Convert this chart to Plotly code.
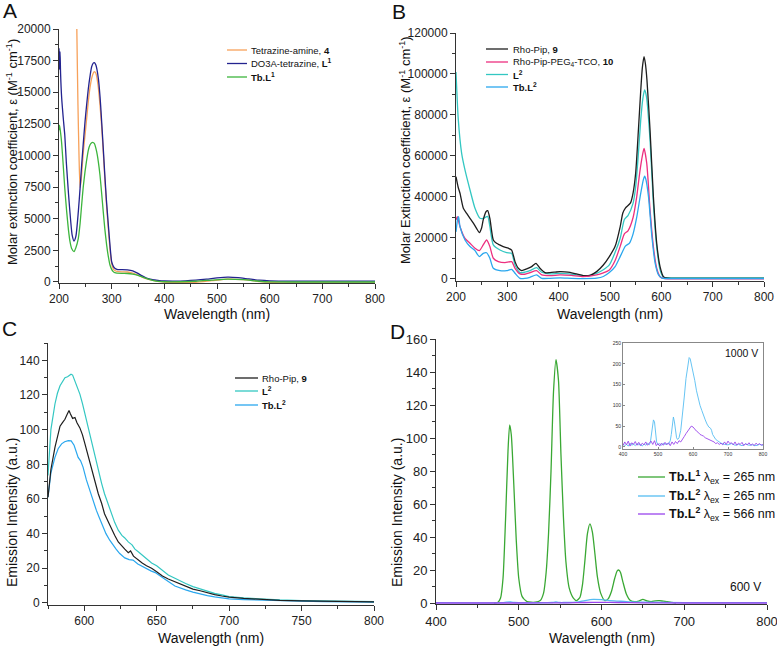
import plotly.graph_objects as go

W, H = 777, 649
def PX(x): return x / W
def PY(y): return 1 - y / H

# ---------------- Panel A data ----------------
a_wl_amine = [232, 234, 236, 238, 240, 242, 244, 246.5, 249.4, 253, 256, 259, 262, 265, 267, 270, 274, 278, 281, 284, 287, 290, 293.7, 297, 300, 303, 306, 310, 320, 330, 340, 350, 360, 370, 380, 390, 400, 430, 460, 490, 520, 550, 580, 610, 650, 700, 750, 800]
a_amine = [26000, 19500, 14000, 10000, 7460, 8000, 9100, 10400, 11600, 13100, 14400, 15400, 16100, 16500, 16630, 16500, 15600, 13900, 12300, 10300, 8200, 6200, 4200, 2500, 1450, 1050, 900, 830, 800, 790, 700, 540, 350, 200, 100, 30, -10, -50, -20, 100, 220, 180, 40, -50, -80, -80, -80, -80]

a_wl_L1 = [200, 201, 202, 203, 205, 208, 211, 214, 218, 222, 225, 228.5, 232, 236.7, 240, 243, 246, 249.4, 252, 255.7, 259, 262, 265, 267, 270, 274.7, 278, 281, 284, 287, 290, 293.7, 297, 300, 303, 306, 310, 315, 320, 330, 340, 350, 357, 365, 373, 382, 390, 400, 420, 440, 460, 480, 500, 520, 540, 560, 580, 600, 650, 700, 750, 800]
a_L1 = [18470, 16800, 18200, 16500, 14600, 13000, 11600, 9400, 7000, 4900, 3700, 3240, 3600, 5560, 7400, 9250, 10900, 12670, 13800, 15300, 16300, 17020, 17300, 17340, 17150, 16100, 14600, 12670, 10600, 8460, 6500, 4500, 2800, 1600, 1250, 1080, 1000, 980, 980, 960, 880, 680, 500, 330, 220, 160, 110, 80, 70, 90, 140, 220, 320, 390, 350, 240, 140, 90, 70, 70, 70, 70]

a_wl_TbL1 = [200, 201, 203, 205, 208, 211, 214.6, 218, 220.9, 224, 228.5, 232, 236.7, 240, 243, 246, 249.4, 252, 255.7, 259, 262, 264, 267, 271.5, 274.7, 277.8, 281, 284, 287, 290.5, 293.7, 296.8, 300, 303, 306, 310, 320, 330, 340, 350, 360, 370, 380, 390, 400, 430, 460, 490, 520, 550, 580, 600, 650, 700, 750, 800]
a_TbL1 = [12000, 12400, 11800, 11000, 9250, 7400, 5560, 4100, 3190, 2650, 2400, 2700, 3450, 4600, 6090, 7500, 8720, 9500, 10430, 10850, 11000, 11040, 10950, 10300, 9500, 8460, 7000, 5560, 4200, 2920, 2000, 1340, 1000, 820, 740, 700, 680, 670, 620, 520, 370, 230, 110, 50, 20, 20, 60, 150, 230, 180, 60, 10, 0, 0, 0, 0]

# ---------------- Panel B data ----------------
b_wl_rho = [200, 204, 207.8, 214.3, 220.8, 227.3, 233.8, 240, 245.5, 250, 253, 258.4, 261.7, 266, 272.7, 279, 285, 292, 302, 308.4, 315, 321.4, 328, 337.7, 347.4, 355.8, 363.6, 373.4, 383, 392, 402.6, 412, 422, 435, 448, 461, 474, 487, 498.7, 510, 520, 525, 530, 540, 545, 550, 555, 560, 563, 566.3, 569, 572, 578, 584.5, 591, 597.5, 604, 610.5, 620, 650, 700, 750, 800]
b_rho = [49900, 45000, 41800, 34500, 32000, 29600, 27200, 24700, 22600, 25000, 28800, 32800, 33300, 29500, 19000, 17400, 16600, 15800, 15000, 14100, 8450, 5200, 4070, 4880, 6000, 7640, 5200, 3090, 3090, 3300, 3580, 3500, 3250, 2440, 1630, 1790, 3580, 6800, 10900, 15900, 25700, 32200, 34600, 37100, 42000, 51700, 71200, 92400, 103000, 108500, 105000, 97000, 72700, 40200, 17400, 6000, 1140, 400, 300, 300, 300, 300, 300]

b_wl_peg = [200, 202.6, 207.8, 217.5, 227.3, 237, 245.5, 253, 259.7, 266, 272.7, 282.5, 295.5, 308.4, 315, 324.7, 334, 344, 357, 367, 383, 402.6, 425, 448, 474, 487, 498.7, 510, 520, 528, 535, 545, 552, 558, 563, 566.3, 571.6, 578, 584.5, 591, 597.5, 604, 612, 625, 650, 700, 750, 800]
b_peg = [28800, 30400, 25500, 19800, 17400, 15000, 13800, 16600, 19000, 15800, 10100, 8450, 8000, 8450, 5200, 2440, 2300, 3090, 4070, 1950, 1600, 1950, 1700, 1140, 1950, 3000, 4390, 9000, 16000, 22000, 23500, 30000, 40000, 52000, 60000, 63700, 56400, 33700, 15800, 5200, 1100, 300, 100, 100, 100, 100, 100, 100]

b_wl_L2 = [200, 204.5, 211, 217.5, 227.3, 237, 246.8, 253, 259.7, 262, 266, 272.7, 285.7, 298.7, 308.4, 315, 324.7, 334, 344, 357, 367, 383, 402.6, 420, 435, 454.5, 474, 487, 498.7, 510, 520, 528, 535, 545, 550, 555, 560, 564, 567.5, 571, 578, 584.5, 591, 597.5, 604, 610.5, 620, 650, 700, 750, 800]
b_L2 = [101000, 77600, 61300, 53200, 43400, 34500, 29600, 29600, 30400, 30500, 25500, 16600, 14100, 12800, 12500, 6830, 3090, 3300, 4070, 5530, 3250, 2440, 2760, 2500, 1950, 1460, 2760, 4500, 6830, 13000, 20000, 29000, 30900, 37000, 45000, 60000, 78000, 88000, 92200, 89000, 67800, 36900, 15800, 4400, 800, 600, 500, 500, 500, 500, 500]

b_wl_TbL2 = [200, 203, 205, 207.8, 217.5, 227.3, 237, 245.5, 253, 259.7, 266, 272.7, 285.7, 298.7, 308.4, 315, 324.7, 334, 344, 357, 367, 383, 402.6, 425, 448, 474, 487, 498.7, 510, 520, 530, 538, 545, 552, 560, 565, 567.5, 570, 575, 581.6, 588, 594.6, 601, 610, 630, 700, 800]
b_TbL2 = [23000, 29000, 30400, 25500, 19000, 15800, 13800, 10900, 12500, 12800, 10100, 5200, 4070, 4070, 4700, 2760, 300, 300, 800, 1950, 300, 300, 500, 300, 200, 400, 1200, 3090, 6000, 11000, 16000, 17500, 22000, 30000, 42000, 48500, 50200, 48500, 40200, 20700, 7640, 1950, 400, 200, 200, 200, 200]

# ---------------- Panel C data ----------------
c_wl_rho = [575, 577, 579.8, 581.5, 583.3, 585, 586.7, 588, 589.5, 590.5, 592, 593.6, 595, 597, 598.8, 600.5, 603, 605, 607, 609.7, 612, 614, 616.5, 619, 621, 623.5, 626, 628, 630.4, 632, 634, 637.3, 640, 643, 646.5, 650, 654, 658, 662.6, 666, 670, 675, 680, 685, 690, 695, 700, 710, 720, 735, 750, 765, 780, 800]
c_rho = [61, 77, 89.8, 96, 102, 104, 106, 108.5, 111, 109, 106.5, 107, 104, 101, 97, 91.8, 84, 78, 72, 63, 57.5, 51.5, 47, 42, 39, 35.2, 32.5, 31, 29, 30, 27, 24.7, 23, 21.5, 20, 18, 15.5, 13.8, 12.3, 10.8, 9.5, 8, 7, 5.8, 4.8, 4, 3.3, 2.6, 2, 1.5, 1.2, 0.9, 0.7, 0.6]

c_wl_L2 = [575, 577, 579.8, 581.5, 583.3, 585, 586.7, 588.5, 590.9, 592, 593.6, 595, 597, 598.8, 600.5, 603, 605, 607, 609.7, 612, 614, 616.5, 619, 621, 623.5, 626, 628, 630.4, 633, 635, 637.3, 640, 643, 646.5, 650, 654, 658, 662.6, 666, 670, 675, 680, 685, 690, 695, 700, 710, 720, 735, 750, 765, 780, 800]
c_L2 = [73.6, 100, 114.8, 121, 125.3, 128, 130, 130.5, 132, 131.5, 128, 125, 120.5, 115, 109, 100, 91.8, 85, 76.4, 69, 63, 57, 51.5, 46.5, 42, 39, 37.5, 35.2, 33.5, 31, 29.5, 27.5, 25.5, 23, 21.5, 18.8, 16.1, 14.2, 12.6, 11.2, 9.4, 8, 6.6, 5.5, 4.6, 3.6, 2.9, 2.3, 1.7, 1.3, 1.1, 0.9, 0.8]

c_wl_TbL2 = [575, 577, 579.8, 582, 584.4, 586.5, 589, 591, 593, 595.8, 597.5, 599.2, 601.5, 603.8, 606, 608.4, 610.5, 613, 615, 617.6, 620, 622, 624.5, 628, 631, 633.7, 637, 640, 642.9, 646, 649, 652, 656, 662.6, 666, 670, 675, 680, 685, 690, 695, 700, 710, 720, 735, 750, 765, 780, 800]
c_TbL2 = [61, 75, 84, 89, 91.8, 93, 93.7, 93.5, 91, 84, 82, 78.4, 71, 65, 59, 53.4, 49, 43.9, 40, 36.2, 33, 31, 28.5, 26, 25, 24.7, 22.5, 21, 20, 18.5, 17.5, 16, 13.5, 9.8, 8.6, 7.5, 6.2, 5, 4.2, 3.5, 2.8, 2.3, 1.9, 1.6, 1.2, 1, 0.8, 0.6, 0.4]

# ---------------- Panel D data ----------------
d_wl_TbL1 = [470, 475, 478, 481, 484, 487, 489, 491, 494, 497, 500, 504, 510, 520, 526, 530, 533, 536, 539, 542, 545, 548, 551, 554, 557, 561, 566, 570, 574, 577, 580, 583, 586, 589, 592, 595, 599, 604, 608, 612, 616, 619, 621, 623, 626, 630, 635, 640, 645, 650, 655, 660, 665, 670, 675, 680, 685, 690]
d_TbL1 = [0, 0.5, 3, 15, 50, 92, 108, 102, 72, 38, 15, 4, 0.8, 0.5, 1.5, 6, 18, 42, 80, 128, 147.5, 135, 90, 52, 25, 9, 3, 1.5, 3.5, 11, 26, 42, 48, 43, 30, 16, 6, 1.5, 2.5, 7, 15, 19.5, 20, 18.5, 12.5, 5.5, 1.5, 0.8, 1.2, 2.2, 1.3, 0.8, 1.3, 1.4, 1.1, 0.9, 0.4, 0]

d_wl_TbL2_265 = [400, 480, 485, 490, 495, 500, 535, 540, 545, 550, 555, 570, 580, 590, 600, 610, 620, 630, 650, 700, 800]
d_TbL2_265 = [0.2, 0.2, 0.5, 0.6, 0.3, 0.2, 0.2, 0.3, 0.6, 0.3, 0.3, 0.5, 1.5, 2.2, 2, 1.5, 1.2, 0.8, 0.5, 0.2, 0.2]

d_wl_TbL2_566 = [400, 500, 560, 580, 600, 620, 650, 700, 800]
d_TbL2_566 = [0, 0, 0.1, 0.3, 0.4, 0.3, 0.1, 0, 0]

# Inset (1000 V)
i_wl_265 = [400, 405, 410, 415, 420, 425, 430, 435, 440, 445, 450, 455, 460, 465, 470, 475, 478, 481, 484, 487, 490, 493, 496, 500, 505, 510, 515, 520, 525, 530, 535, 538, 541, 544, 547, 550, 553, 556, 560, 565, 570, 575, 580, 585, 589, 592, 595, 600, 605, 610, 615, 620, 625, 630, 635, 640, 645, 650, 653, 656, 660, 665, 670, 675, 680, 690, 700, 710, 720, 730, 740, 750, 760, 770, 780, 790, 800]
i_265 = [8, 3, 6, 2, 9, 4, 7, 3, 8, 5, 6, 2, 7, 4, 9, 5, 10, 25, 50, 65, 60, 35, 12, 5, 8, 4, 9, 6, 8, 7, 15, 30, 55, 72, 60, 35, 22, 18, 22, 40, 75, 120, 165, 200, 215, 212, 200, 185, 160, 135, 115, 100, 88, 75, 65, 55, 48, 45, 40, 30, 24, 18, 15, 12, 9, 6, 5, 8, 4, 6, 3, 7, 4, 5, 3, 6, 4]

i_wl_566 = list(range(400, 801, 5))
i_566 = [3, 12, 5, 14, 2, 10, 6, 13, 4, 11, 3, 9, 5, 12, 4, 8, 14, 6, 15, 3, 8, 2, 9, 4, 11, 5, 10, 3, 12, 6, 13, 8, 15, 12, 20, 25, 32, 38, 45, 50, 48, 42, 38, 35, 30, 28, 26, 22, 20, 18, 15, 13, 12, 8, 10, 6, 9, 5, 12, 6, 14, 8, 10, 5, 12, 4, 9, 6, 11, 3, 8, 5, 10, 4, 7, 3, 9, 5, 8, 4, 6]

# Legend labels
a_names = ["Tetrazine-amine, <b>4</b>", "DO3A-tetrazine, <b>L<sup>1</sup></b>", "<b>Tb.L<sup>1</sup></b>"]
b_names = ["Rho-Pip, <b>9</b>", "Rho-Pip-PEG<sub>4</sub>-TCO, <b>10</b>", "<b>L<sup>2</sup></b>", "<b>Tb.L<sup>2</sup></b>"]
c_names = ["Rho-Pip, <b>9</b>", "<b>L<sup>2</sup></b>", "<b>Tb.L<sup>2</sup></b>"]
d_names = ["<b>Tb.L<sup>1</sup></b> λ<sub>ex</sub> = 265 nm", "<b>Tb.L<sup>2</sup></b> λ<sub>ex</sub> = 265 nm", "<b>Tb.L<sup>2</sup></b> λ<sub>ex</sub> = 566 nm"]

ORANGE, NAVY, GREEN = "#F7A15A", "#23238F", "#3DB53D"
BLACK, PINK, TURQ, SKY = "#1E1E1E", "#EC2F7F", "#33C7C2", "#2AA7EE"
DGREEN, DSKY, PURPLE = "#3AA834", "#56BDF2", "#9A45EC"

fig = go.Figure()
LW = 1.3

def add(x, y, color, xa, ya, shape="spline", w=LW):
    line = dict(color=color, width=w, shape=shape)
    if shape == "spline":
        line["smoothing"] = 0.6
    fig.add_trace(go.Scatter(x=x, y=y, mode="lines", showlegend=False, line=line,
                             xaxis=xa, yaxis=ya, hoverinfo="skip"))

# A
add(a_wl_amine, a_amine, ORANGE, "x", "y")
add(a_wl_L1, a_L1, NAVY, "x", "y")
add(a_wl_TbL1, a_TbL1, GREEN, "x", "y")
# B
add(b_wl_L2, b_L2, TURQ, "x2", "y2")
add(b_wl_rho, b_rho, BLACK, "x2", "y2")
add(b_wl_peg, b_peg, PINK, "x2", "y2")
add(b_wl_TbL2, b_TbL2, SKY, "x2", "y2")
# C
add(c_wl_L2, c_L2, TURQ, "x3", "y3", "linear", 1.2)
add(c_wl_TbL2, c_TbL2, SKY, "x3", "y3", "linear", 1.2)
add(c_wl_rho, c_rho, BLACK, "x3", "y3", "linear", 1.2)
# D
add(d_wl_TbL1, d_TbL1, DGREEN, "x4", "y4")
add(d_wl_TbL2_265, d_TbL2_265, DSKY, "x4", "y4")
add(d_wl_TbL2_566, d_TbL2_566, PURPLE, "x4", "y4")
# Inset
add(i_wl_265, i_265, DSKY, "x5", "y5", "linear", 0.9)
add(i_wl_566, i_566, PURPLE, "x5", "y5", "linear", 0.9)

FONT = "Liberation Sans, Arial, sans-serif"

def axis(dom, rng, dtick, mdtick, anchor, tick0=None, fs=12):
    d = dict(domain=dom, range=rng, dtick=dtick, anchor=anchor, automargin=False,
             ticklabeloverflow="allow",
             showline=True, linecolor="#333", linewidth=1,
             ticks="outside", ticklen=5, tickwidth=1, tickcolor="#333", showgrid=False, zeroline=False,
             tickfont=dict(family=FONT, size=fs, color="#222"), tickformat="d",
             minor=dict(dtick=mdtick, ticks="outside", ticklen=3, tickwidth=1, tickcolor="#333", showgrid=False))
    if tick0 is not None:
        d["tick0"] = tick0
    return d

fig.update_layout(template="none", width=W, height=H, margin=dict(l=0, r=0, t=0, b=0, pad=0),
                  paper_bgcolor="white", plot_bgcolor="rgba(0,0,0,0)", font=dict(family=FONT),
                  showlegend=False)

xa = axis([PX(59), PX(375)], [200, 800], 100, 50, "y")
ya = axis([PY(283), PY(29)], [-80, 20000], 2500, 1250, "x", 0)
xb = axis([PX(456), PX(764)], [200, 800], 100, 50, "y2")
yb = axis([PY(281), PY(33)], [-1000, 120000], 20000, 10000, "x2", 0)
xc = axis([PX(48), PX(374)], [575, 800], 50, 25, "y3", 600)
yc = axis([PY(605), PY(343)], [-1.2, 150], 20, 10, "x3", 0)
xd = axis([PX(436), PX(767)], [400, 800], 100, 50, "y4", fs=13)
yd = axis([PY(604), PY(339)], [-0.6, 160], 20, 10, "x4", 0, fs=13)

xi = dict(domain=[PX(623), PX(763)], range=[400, 800], dtick=100, anchor="y5", showline=True, mirror=True,
          automargin=False, linecolor="#888", linewidth=0.8, ticks="inside", ticklen=2, tickcolor="#888",
          showgrid=False, zeroline=False, tickfont=dict(family=FONT, size=5, color="#333"), tickformat="d")
yi = dict(domain=[PY(449), PY(343)], range=[-5, 250], dtick=50, tick0=0, anchor="x5", showline=True, mirror=True,
          automargin=False, linecolor="#888", linewidth=0.8, ticks="inside", ticklen=2, tickcolor="#888",
          showgrid=False, zeroline=False, tickfont=dict(family=FONT, size=5, color="#333"), tickformat="d")

fig.update_layout(xaxis=xa, yaxis=ya, xaxis2=xb, yaxis2=yb, xaxis3=xc, yaxis3=yc,
                  xaxis4=xd, yaxis4=yd, xaxis5=xi, yaxis5=yi)

ann = []
shapes = []
def text(x, y, t, size, angle=0, xanchor="center", color="#111"):
    ann.append(dict(x=PX(x), y=PY(y), xref="paper", yref="paper", text=t, showarrow=False,
                    textangle=angle, xanchor=xanchor, yanchor="middle",
                    font=dict(family=FONT, size=size, color=color)))

# panel letters
text(10, 11, "A", 21)
text(399, 12, "B", 21)
text(9, 328, "C", 21)
text(397, 331, "D", 21)

# axis titles
text(217, 314, "Wavelength (nm)", 14)
text(610, 314, "Wavelength (nm)", 14)
text(211, 638, "Wavelength (nm)", 14)
text(602, 638, "Wavelength (nm)", 14)
text(12, 152, "Molar extinction coefficient, ε (M<sup>-1</sup> cm<sup>-1</sup>)", 13, -90)
text(405, 150, "Molar Extinction coefficient, ε (M<sup>-1</sup> cm<sup>-1</sup>)", 13, -90)
text(12, 513, "Emission Intensity (a.u.)", 14, -90)
text(397, 513, "Emission Intensity (a.u.)", 14, -90)

def legend(x0, x1, xt, ys, names, colors, size):
    for yy, n, c in zip(ys, names, colors):
        shapes.append(dict(type="line", xref="paper", yref="paper", x0=PX(x0), x1=PX(x1),
                           y0=PY(yy), y1=PY(yy), line=dict(color=c, width=1.3)))
        text(xt, yy, n, size, xanchor="left")

legend(227, 247, 249, [50, 63.5, 77], a_names, [ORANGE, NAVY, GREEN], 9.5)
legend(486, 508, 511, [49, 62, 74.5, 87], b_names, [BLACK, PINK, TURQ, SKY], 9.5)
legend(235, 258, 260, [378, 391, 405], c_names, [BLACK, TURQ, SKY], 9.5)
legend(638, 665, 667, [477, 496, 514], d_names, [DGREEN, DSKY, PURPLE], 12.5)

text(745, 587, "600 V", 12)
text(741, 353, "1000 V", 10.5)

fig.update_layout(annotations=ann, shapes=shapes)
fig.write_html("out.html")
